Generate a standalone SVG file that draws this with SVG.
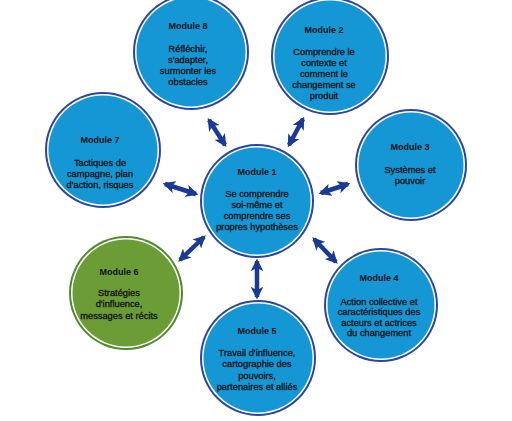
<svg xmlns="http://www.w3.org/2000/svg" width="512" height="421" viewBox="0 0 512 421">
<defs>
<style>
.ring{fill:#2a46a0}
.gap{fill:#ffffff}
.fill{fill:#1597d5}
.gring{fill:#4e8a2e}
.gfill{fill:#6b9c35}
.t{font-family:"Liberation Sans",Arial,sans-serif;font-size:9px;font-weight:bold;fill:#111;text-anchor:middle}
.d{font-family:"Liberation Sans",Arial,sans-serif;font-size:9.3px;fill:#111;stroke:#111;stroke-width:0.3;text-anchor:middle}
.arr{stroke:#1b3a94;stroke-width:4.5;fill:none;marker-start:url(#ah);marker-end:url(#ah)}
</style>
<marker id="ah" viewBox="0 0 10 10" refX="8" refY="5" markerWidth="2.8" markerHeight="2.8" orient="auto-start-reverse" markerUnits="strokeWidth">
<path d="M0,0 L10,5 L0,10 L2.5,5 z" fill="#1b3a94"/>
</marker>
</defs>
<rect width="512" height="421" fill="#ffffff"/>
<g id="connectors">
<line class="arr" x1="209" y1="120" x2="225" y2="145"/>
<line class="arr" x1="303" y1="119" x2="289" y2="145"/>
<line class="arr" x1="165" y1="184" x2="196" y2="194"/>
<line class="arr" x1="321" y1="193" x2="348" y2="184"/>
<line class="arr" x1="204" y1="237" x2="180" y2="260"/>
<line class="arr" x1="314" y1="239" x2="336" y2="262"/>
<line class="arr" x1="257" y1="261" x2="257" y2="297"/>
</g>
<g id="module8">
<circle class="ring" cx="191" cy="52" r="58"/><circle class="gap" cx="191" cy="52" r="56"/><circle class="fill" cx="191" cy="52" r="54.5"/>
<text class="t" x="188" y="29">Module 8</text>
<text class="d" x="188" y="52">Réfléchir,</text>
<text class="d" x="188" y="63">s'adapter,</text>
<text class="d" x="188" y="74">surmonter les</text>
<text class="d" x="188" y="85">obstacles</text>
</g>
<g id="module2">
<circle class="ring" cx="330" cy="56" r="59"/><circle class="gap" cx="330" cy="56" r="57"/><circle class="fill" cx="330" cy="56" r="55.5"/>
<text class="t" x="324" y="33">Module 2</text>
<text class="d" x="324" y="55">Comprendre le</text>
<text class="d" x="324" y="66">contexte et</text>
<text class="d" x="324" y="77">comment le</text>
<text class="d" x="324" y="88">changement se</text>
<text class="d" x="324" y="99">produit</text>
</g>
<g id="module3">
<circle class="ring" cx="411" cy="165" r="56"/><circle class="gap" cx="411" cy="165" r="54"/><circle class="fill" cx="411" cy="165" r="52.5"/>
<text class="t" x="410" y="150">Module 3</text>
<text class="d" x="410" y="173">Systèmes et</text>
<text class="d" x="410" y="184">pouvoir</text>
</g>
<g id="module7">
<circle class="ring" cx="103" cy="150" r="58"/><circle class="gap" cx="103" cy="150" r="56"/><circle class="fill" cx="103" cy="150" r="54.5"/>
<text class="t" x="100" y="143">Module 7</text>
<text class="d" x="100" y="166">Tactiques de</text>
<text class="d" x="100" y="177">campagne, plan</text>
<text class="d" x="100" y="188">d'action, risques</text>
</g>
<g id="module1">
<circle class="ring" cx="257" cy="201" r="57"/><circle class="gap" cx="257" cy="201" r="55"/><circle class="fill" cx="257" cy="201" r="53.5"/>
<text class="t" x="257" y="175">Module 1</text>
<text class="d" x="257" y="197">Se comprendre</text>
<text class="d" x="257" y="208">soi-même et</text>
<text class="d" x="257" y="219">comprendre ses</text>
<text class="d" x="257" y="230">propres hypothèses</text>
</g>
<g id="module6">
<circle class="gring" cx="126" cy="293" r="57"/><circle class="gap" cx="126" cy="293" r="55"/><circle class="gfill" cx="126" cy="293" r="53.5"/>
<text class="t" x="119" y="275">Module 6</text>
<text class="d" x="119" y="296">Stratégies</text>
<text class="d" x="119" y="307">d'influence,</text>
<text class="d" x="119" y="319">messages et récits</text>
</g>
<g id="module4">
<circle class="ring" cx="381" cy="305" r="57"/><circle class="gap" cx="381" cy="305" r="55"/><circle class="fill" cx="381" cy="305" r="53.5"/>
<text class="t" x="379" y="281">Module 4</text>
<text class="d" x="379" y="305">Action collective et</text>
<text class="d" x="379" y="315">caractéristiques des</text>
<text class="d" x="379" y="326">acteurs et actrices</text>
<text class="d" x="379" y="336">du changement</text>
</g>
<g id="module5">
<circle class="ring" cx="258" cy="358" r="58"/><circle class="gap" cx="258" cy="358" r="56"/><circle class="fill" cx="258" cy="358" r="54.5"/>
<text class="t" x="257" y="334">Module 5</text>
<text class="d" x="257" y="356">Travail d'influence,</text>
<text class="d" x="257" y="367">cartographie des</text>
<text class="d" x="257" y="379">pouvoirs,</text>
<text class="d" x="257" y="390">partenaires et alliés</text>
</g>
</svg>
